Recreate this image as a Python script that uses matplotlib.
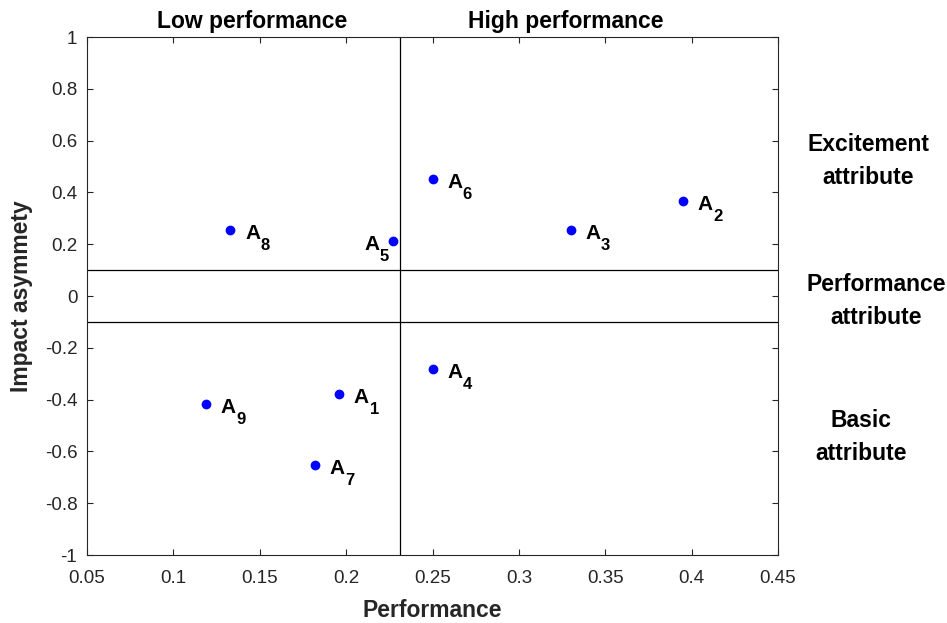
import numpy as np
import matplotlib.pyplot as plt
from matplotlib.ticker import FormatStrFormatter

plt.rcParams['font.family'] = ['Liberation Sans', 'DejaVu Sans']
plt.rcParams['axes.unicode_minus'] = False

# attribute performance and impact asymmetry
labels = ['1', '2', '3', '4', '5', '6', '7', '8', '9']
perf = [0.196, 0.395, 0.330, 0.250, 0.227, 0.250, 0.182, 0.133, 0.119]
asym = [-0.378, 0.368, 0.256, -0.282, 0.214, 0.451, -0.653, 0.255, -0.417]
xticks = [0.05, 0.1, 0.15, 0.2, 0.25, 0.3, 0.35, 0.4, 0.45]
yticks = [-1, -0.8, -0.6, -0.4, -0.2, 0, 0.2, 0.4, 0.6, 0.8, 1]

fig = plt.figure(figsize=(9.47, 6.23), dpi=100)
ax = fig.add_axes([0.0919, 0.1091, 0.7297, 0.8315])

xmean = np.mean(perf)
ax.axvline(xmean, color='black', lw=0.9)
ax.axhline(0.1, color='black', lw=0.9)
ax.axhline(-0.1, color='black', lw=0.9)

ax.plot(perf, asym, 'o', color='blue', markersize=6, zorder=3)
for lab, x, y in zip(labels, perf, asym):
    if lab == '5':
        dx = -20.5
    else:
        dx = 10.5
    ax.annotate('A', (x, y), xytext=(dx, -6.5), textcoords='offset points',
                fontsize=15, fontweight='bold', va='baseline', ha='left')
    ax.annotate(lab, (x, y), xytext=(dx + 11.3, -14.5), textcoords='offset points',
                fontsize=12, fontweight='bold', va='baseline', ha='left')

ax.set_xlim(0.05, 0.45)
ax.set_ylim(-1, 1)
ax.set_xticks(xticks)
ax.set_yticks(yticks)
ax.xaxis.set_major_formatter(FormatStrFormatter('%g'))
ax.yaxis.set_major_formatter(FormatStrFormatter('%g'))
ax.tick_params(direction='in', length=4.3, labelsize=13.5, top=True, right=True,
               colors='#262626', labelcolor='#262626')
ax.tick_params(axis='x', pad=11)
ax.tick_params(axis='y', pad=7)
for s in ax.spines.values():
    s.set_color('#262626')
    s.set_linewidth(0.8)

ax.set_xlabel('Performance', fontsize=16.5, fontweight='bold', color='#262626')
ax.set_ylabel('Impact asymmety', fontsize=16.5, fontweight='bold', color='#262626')
ax.xaxis.set_label_coords(0.5, -0.108)
ax.xaxis.label.set_va('center')
ax.yaxis.set_label_coords(-0.0955, 0.5)
ax.yaxis.label.set_va('center')

fig.text(252 / 947, 1 - 28 / 623, 'Low performance', ha='center', va='baseline',
         fontsize=16.5, fontweight='bold')
fig.text(566 / 947, 1 - 28 / 623, 'High performance', ha='center', va='baseline',
         fontsize=16.5, fontweight='bold')
fig.text(868 / 947, 1 - 161 / 623, 'Excitement\nattribute', ha='center',
         va='center', fontsize=16.5, fontweight='bold', linespacing=1.55)
fig.text(876 / 947, 1 - 301 / 623, 'Performance\nattribute', ha='center',
         va='center', fontsize=16.5, fontweight='bold', linespacing=1.55)
fig.text(861 / 947, 1 - 437 / 623, 'Basic\nattribute', ha='center',
         va='center', fontsize=16.5, fontweight='bold', linespacing=1.55)

fig.savefig('out.png', dpi=100)
